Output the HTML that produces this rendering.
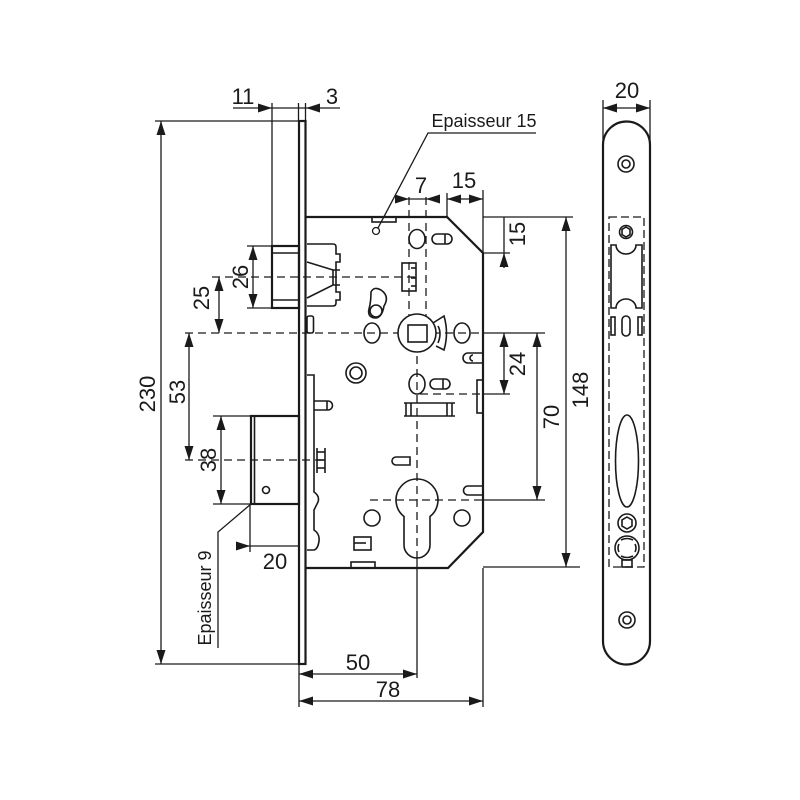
<!DOCTYPE html>
<html><head><meta charset="utf-8"><style>
html,body{margin:0;padding:0;background:#fff;}
svg{display:block;}
text{font-family:"Liberation Sans",Arial,sans-serif;fill:#1a1a1a;}
</style></head><body>
<svg width="800" height="800" viewBox="0 0 800 800" xmlns="http://www.w3.org/2000/svg">
<rect width="800" height="800" fill="#fff"/>
<g stroke="#1a1a1a" fill="none" stroke-width="1.3">
<!-- extension / dim lines -->
<line x1="155" y1="121" x2="299" y2="121"/>
<line x1="155" y1="664" x2="299" y2="664"/>
<line x1="161" y1="121" x2="161" y2="664"/>
<line x1="233" y1="108" x2="340" y2="108"/>
<line x1="272" y1="103" x2="272" y2="246"/>
<line x1="298.5" y1="103" x2="298.5" y2="121"/>
<line x1="305.5" y1="103" x2="305.5" y2="121"/>
<line x1="247" y1="246" x2="272" y2="246"/>
<line x1="247" y1="308" x2="272" y2="308"/>
<line x1="253" y1="246" x2="253" y2="308"/>
<line x1="219" y1="277" x2="219" y2="333"/>
<line x1="189" y1="333" x2="189" y2="460"/>
<line x1="213" y1="416" x2="251" y2="416"/>
<line x1="213" y1="504" x2="251" y2="504"/>
<line x1="221" y1="416" x2="221" y2="504"/>
<line x1="236" y1="546" x2="299" y2="546"/>
<line x1="250" y1="504" x2="250" y2="552"/>
<polyline points="251,504 218,532 218,648"/>
<!-- epaisseur 15 -->
<polyline points="536,133 428,133 378,228"/>
<circle cx="376" cy="231" r="3.5"/>
<!-- top dims -->
<line x1="395" y1="199" x2="440" y2="199"/>
<line x1="447" y1="199" x2="483" y2="199"/>
<line x1="447" y1="193" x2="447" y2="217"/>
<line x1="483" y1="190" x2="483" y2="253"/>
<line x1="483" y1="217" x2="573" y2="217"/>
<line x1="483" y1="253" x2="510" y2="253"/>
<line x1="504" y1="217" x2="504" y2="268"/>
<line x1="566" y1="217" x2="566" y2="567"/>
<line x1="483" y1="567" x2="580" y2="567"/>
<line x1="483" y1="333" x2="545" y2="333"/>
<line x1="483" y1="394" x2="510" y2="394"/>
<line x1="483" y1="500" x2="545" y2="500"/>
<line x1="504" y1="333" x2="504" y2="394"/>
<line x1="537" y1="333" x2="537" y2="500"/>
<!-- bottom dims -->
<line x1="299" y1="664" x2="299" y2="707"/>
<line x1="483" y1="568" x2="483" y2="707"/>
<line x1="417" y1="558" x2="417" y2="678"/>
<line x1="299" y1="674" x2="417" y2="674"/>
<line x1="299" y1="701" x2="483" y2="701"/>
<!-- right plate dim -->
<line x1="603" y1="100" x2="603" y2="145"/>
<line x1="650" y1="100" x2="650" y2="145"/>
<line x1="603" y1="108" x2="650" y2="108"/>
</g>
<!-- dashed lines -->
<g stroke="#1a1a1a" fill="none" stroke-width="1.3" stroke-dasharray="8,5">
<line x1="212" y1="277" x2="417" y2="277"/>
<line x1="185" y1="333" x2="483" y2="333"/>
<line x1="185" y1="460" x2="325" y2="460"/>
<line x1="420" y1="394" x2="483" y2="394"/>
<line x1="370" y1="500" x2="483" y2="500"/>
<line x1="417" y1="343" x2="417" y2="558"/>
<line x1="409" y1="197" x2="409" y2="320"/>
<line x1="426" y1="197" x2="426" y2="320"/>
<rect x="609" y="217" width="35" height="350" stroke-dasharray="8,4"/>
</g>
<!-- arrows -->
<g fill="#1a1a1a" stroke="none">
<polygon points="161,121 156.5,135 165.5,135"/>
<polygon points="161,664 156.5,650 165.5,650"/>
<polygon points="272,108 258,103.5 258,112.5"/>
<polygon points="306,108 320,103.5 320,112.5"/>
<polygon points="253,246 248.5,260 257.5,260"/>
<polygon points="253,308 248.5,294 257.5,294"/>
<polygon points="219,277 214.5,291 223.5,291"/>
<polygon points="219,333 214.5,319 223.5,319"/>
<polygon points="189,333 184.5,347 193.5,347"/>
<polygon points="189,460 184.5,446 193.5,446"/>
<polygon points="221,416 216.5,430 225.5,430"/>
<polygon points="221,504 216.5,490 225.5,490"/>
<polygon points="250,546 236,541.5 236,550.5"/>
<polygon points="409,199 395,194.5 395,203.5"/>
<polygon points="426,199 440,194.5 440,203.5"/>
<polygon points="447,199 461,194.5 461,203.5"/>
<polygon points="483,199 469,194.5 469,203.5"/>
<polygon points="504,253 499.5,267 508.5,267"/>
<polygon points="566,217 561.5,231 570.5,231"/>
<polygon points="566,567 561.5,553 570.5,553"/>
<polygon points="504,333 499.5,347 508.5,347"/>
<polygon points="504,394 499.5,380 508.5,380"/>
<polygon points="537,333 532.5,347 541.5,347"/>
<polygon points="537,500 532.5,486 541.5,486"/>
<polygon points="299,674 313,669.5 313,678.5"/>
<polygon points="417,674 403,669.5 403,678.5"/>
<polygon points="299,701 313,696.5 313,705.5"/>
<polygon points="483,701 469,696.5 469,705.5"/>
<polygon points="603,108 617,103.5 617,112.5"/>
<polygon points="650,108 636,103.5 636,112.5"/>
</g>
<!-- main outlines -->
<g stroke="#1a1a1a" fill="none" stroke-width="2.2" stroke-linejoin="miter">
<rect x="299" y="121" width="6.5" height="543"/>
<polyline points="306,217 447,217 483,253 483,532 448,568 306,568"/>
<rect x="272" y="246" width="27" height="62"/>
<rect x="251" y="416" width="48" height="88"/>
<path d="M603,145 A23.5,23.5 0 0 1 650,145 V641 A23.5,23.5 0 0 1 603,641 Z"/>
</g>
<g stroke="#1a1a1a" fill="none" stroke-width="1.6">
<line x1="272" y1="253" x2="299" y2="253"/>
<line x1="272" y1="300" x2="299" y2="300"/>
<line x1="254.5" y1="416" x2="254.5" y2="504"/>
<circle cx="266" cy="490" r="3.5"/>
<!-- body details -->
<rect x="372" y="217" width="24" height="5"/>
<ellipse cx="417" cy="239" rx="8" ry="9.5"/>
<rect x="432" y="234" width="20" height="10" rx="5"/>
<line x1="445" y1="234" x2="445" y2="244"/>
<rect x="402" y="263" width="14" height="28"/>
<line x1="411" y1="268" x2="416" y2="268"/><line x1="411" y1="278" x2="416" y2="278"/><line x1="411" y1="286" x2="416" y2="286"/>
<!-- latch mech -->
<path d="M307,244 H333 Q336,244 336,247 V254 H340 V262 H336 V292 H340 V300 H336 V303 Q336,306 333,306 H307"/>
<polyline points="307,262 333,270 340,270"/>
<polyline points="307,298 333,285 340,285"/>
<line x1="333" y1="270" x2="333" y2="285"/>
<!-- lever -->
<path d="M371,292 Q374,286 381,290 Q390,296 384,306 Q382,318 375,318 Q367,317 369,309 Q371,302 371,292 Z"/>
<circle cx="376" cy="311" r="6"/>
<rect x="307" y="316" width="6.5" height="17" rx="2"/>
<ellipse cx="372" cy="333" rx="8" ry="10"/>
<ellipse cx="462" cy="333" rx="8" ry="10"/>
<circle cx="417" cy="333" r="19" fill="#fff"/>
<rect x="408" y="325" width="19" height="17"/>
<path d="M433,323 L444,316 Q449,333 444,350 L436,346"/>
<path d="M438,326 Q442,333 438,343"/>
<circle cx="356" cy="373" r="10"/>
<circle cx="356" cy="373" r="6"/>
<path d="M483,353 H468 A5,5 0 0 0 468,363 H483"/>
<path d="M473,355 A3,3 0 0 0 473,361"/>
<ellipse cx="417" cy="384" rx="8" ry="10"/>
<rect x="430" y="379" width="20" height="10" rx="5"/>
<line x1="443" y1="379" x2="443" y2="389"/>
<line x1="404" y1="403" x2="455" y2="403"/>
<line x1="404" y1="416" x2="455" y2="416"/>
<line x1="406" y1="403" x2="406" y2="416"/><line x1="411" y1="403" x2="411" y2="416"/>
<line x1="447" y1="403" x2="447" y2="416"/><line x1="452" y1="403" x2="452" y2="416"/>
<rect x="477" y="380" width="6" height="33"/>
<path d="M307,375 H314 V492 Q320,496 318,502 Q315,508 314,510 V530 Q320,534 319,541 Q318,549 314,550 H307"/>
<path d="M314,401 H328 A4.5,4.5 0 0 1 328,410 H314"/>
<line x1="327" y1="401" x2="327" y2="410"/>
<line x1="317" y1="448" x2="317" y2="473"/><line x1="325" y1="448" x2="325" y2="473"/>
<line x1="317" y1="452" x2="325" y2="452"/><line x1="317" y1="460" x2="325" y2="460"/><line x1="317" y1="468" x2="325" y2="468"/>
<path d="M410,457 H396 A4,4 0 0 0 396,465 H410 Z"/>
<path d="M483,486 H468 A4.5,4.5 0 0 0 468,495 H483"/>
<path d="M404,516.5 A21,21 0 1 1 430,516.5 V545 A13,13 0 0 1 404,545 Z"/>
<circle cx="372" cy="518" r="8"/>
<circle cx="462" cy="518" r="8"/>
<rect x="354" y="537" width="17" height="13"/>
<line x1="354" y1="543" x2="366" y2="543"/>
<rect x="351" y="562" width="24" height="6"/>
<!-- right plate details -->
<circle cx="626" cy="164" r="8"/>
<circle cx="626" cy="164" r="4"/>
<circle cx="626" cy="232" r="6.5"/>
<polygon points="626,227 630,229.5 630,234.5 626,237 622,234.5 622,229.5"/>
<path d="M611,245 H616 A10,9 0 0 0 636,245 H642 V308 H636 A10,9 0 0 0 616,308 H611 Z"/>
<rect x="611" y="317" width="4" height="18"/>
<rect x="622" y="316" width="8" height="20" rx="4"/>
<rect x="638" y="317" width="4" height="18"/>
<ellipse cx="627" cy="461" rx="11.5" ry="46"/>
<circle cx="627" cy="523" r="9"/>
<polygon points="627,517 632,520 632,526 627,529 622,526 622,520"/>
<circle cx="627" cy="548" r="12"/>
<path d="M621,540 Q627,537 633,540 M621,556 Q627,559 633,556 M619,544 Q617,548 619,552 M635,544 Q637,548 635,552"/>
<rect x="622" y="560" width="10" height="7"/>
<circle cx="627" cy="620" r="8"/>
<circle cx="627" cy="620" r="4"/>
</g>
<!-- texts -->
<g font-size="22" text-anchor="middle">
<text x="243" y="104">11</text>
<text x="332" y="104">3</text>
<text x="421" y="193">7</text>
<text x="464" y="188">15</text>
<text x="627" y="98">20</text>
<text x="275" y="569">20</text>
<text x="358" y="670">50</text>
<text x="388" y="697">78</text>
<text x="147" y="402" transform="rotate(-90 147 394)">230</text>
<text x="177" y="400" transform="rotate(-90 177 392)">53</text>
<text x="201" y="306" transform="rotate(-90 201 298)">25</text>
<text x="240" y="285" transform="rotate(-90 240 277)">26</text>
<text x="208" y="468" transform="rotate(-90 208 460)">38</text>
<text x="517" y="242" transform="rotate(-90 517 234)">15</text>
<text x="517" y="372" transform="rotate(-90 517 364)">24</text>
<text x="551" y="425" transform="rotate(-90 551 417)">70</text>
<text x="580" y="398" transform="rotate(-90 580 390)">148</text>
</g>
<g font-size="18" text-anchor="middle">
<text x="484" y="127">Epaisseur 15</text>
<text x="204" y="605" transform="rotate(-90 204 598)">Epaisseur 9</text>
</g>
</svg>
</body></html>
